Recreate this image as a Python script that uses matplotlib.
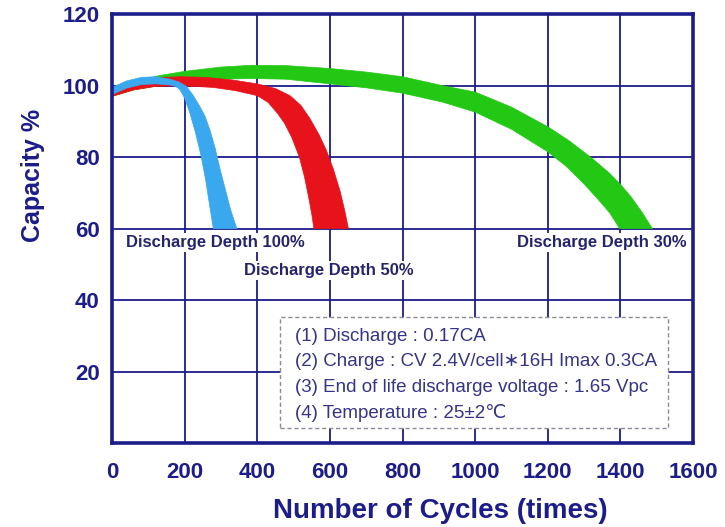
import matplotlib

matplotlib.use("Agg")
import matplotlib.pyplot as plt
from matplotlib.patches import Rectangle

plt.rcParams["font.family"] = ["Liberation Sans", "DejaVu Sans"]

NAVY = "#1c1c8a"
TEXT = "#24246e"

# band edges (cycles, capacity %)
blue_outer_x = [0, 40, 80, 120, 160, 185, 205, 222, 240, 256, 270, 284, 298, 312, 326, 337, 344]
blue_outer_y = [99.5, 101.3, 102.3, 102.5, 101.8, 101, 99.8, 97.5, 94.5, 91.5, 87.5, 82.5, 76.5, 71, 65.5, 62, 60]
blue_inner_x = [0, 40, 80, 120, 160, 175, 186, 200, 214, 230, 246, 258, 268, 275, 279]
blue_inner_y = [97.5, 99.3, 100.3, 100.5, 100.2, 99.8, 99, 96.5, 92.5, 86.8, 80, 73.5, 67, 62.5, 60]

red_outer_x = [0, 60, 120, 190, 260, 330, 400, 450, 490, 520, 545, 570, 590, 610, 628, 641, 651]
red_outer_y = [98.8, 101, 102.2, 102.5, 102.3, 101.6, 100.5, 99.2, 97.2, 94.5, 90.8, 86.3, 82, 76.5, 70.5, 65, 60]
red_inner_x = [0, 60, 120, 190, 279, 340, 400, 430, 456, 475, 495, 516, 530, 542, 551, 556]
red_inner_y = [97, 98.8, 99.8, 100, 99.5, 98.6, 97.2, 95.3, 92.2, 89.5, 85.5, 80, 74.5, 68.5, 63.5, 60]

green_outer_x = [0, 60, 130, 200, 300, 383, 480, 600, 700, 800, 910, 1000, 1100, 1200,
                 1260, 1324, 1370, 1400, 1430, 1460, 1488]
green_outer_y = [99, 101, 102.8, 104, 105.2, 105.7, 105.6, 104.8, 103.8, 102.5, 100, 98.2, 94, 88.5,
                 84.5, 79.5, 75.5, 72.4, 68.8, 64.5, 60]
green_inner_x = [0, 60, 130, 200, 300, 383, 480, 600, 700, 800, 910, 1000, 1100, 1200,
                 1250, 1300, 1340, 1370, 1398]
green_inner_y = [97, 98.8, 100, 101, 101.8, 102, 101.8, 100.5, 99.4, 97.9, 95.4, 92.6, 87.8, 81.5,
                 77.5, 72.5, 68, 64.5, 60]

bands = [
    (green_outer_x, green_outer_y, green_inner_x, green_inner_y, "#22c814"),
    (red_outer_x, red_outer_y, red_inner_x, red_inner_y, "#e8121a"),
    (blue_outer_x, blue_outer_y, blue_inner_x, blue_inner_y, "#3aa8ee"),
]

x_ticks = [0, 200, 400, 600, 800, 1000, 1200, 1400, 1600]
y_ticks = [20, 40, 60, 80, 100, 120]

depth_labels = [
    ("Discharge Depth 100%", 284, 56),
    ("Discharge Depth 50%", 598, 48.4),
    ("Discharge Depth 30%", 1349, 56),
]

notes = [
    "(1) Discharge : 0.17CA",
    "(2) Charge : CV 2.4V/cell\u221716H Imax 0.3CA",
    "(3) End of life discharge voltage : 1.65 Vpc",
    "(4) Temperature : 25\u00b12\u2103",
]

fig = plt.figure(figsize=(7.25, 5.27), dpi=100)
ax = fig.add_axes([0.1545, 0.1594, 0.8014, 0.8137])

for ox, oy, ix, iy, color in bands:
    ax.fill(ox + ix[::-1], oy + iy[::-1], color=color, lw=0.5, ec=color, zorder=2)

ax.set_xlim(0, 1600)
ax.set_ylim(0, 120)
ax.set_xticks(x_ticks)
ax.set_yticks(y_ticks)
ax.grid(True, color=NAVY, lw=1.3, zorder=0)
ax.set_axisbelow(True)
for s in ax.spines.values():
    s.set_color(NAVY)
    s.set_linewidth(2.6)
    s.set_zorder(5)
ax.tick_params(length=0, labelsize=16, labelcolor=NAVY)
ax.tick_params(axis="x", pad=14)
ax.tick_params(axis="y", pad=9)
for lab in ax.get_xticklabels() + ax.get_yticklabels():
    lab.set_fontweight("bold")

ax.set_xlabel("Number of Cycles (times)", fontsize=20, fontweight="bold", color=NAVY)
ax.xaxis.label.set_va("center")
ax.xaxis.set_label_coords(0.565, -0.158)
ax.set_ylabel("Capacity %", fontsize=18, fontweight="bold", color=NAVY)
ax.yaxis.set_label_coords(-0.115, 0.623)

for text, x, y in depth_labels:
    ax.text(x, y, text, ha="center", va="center", fontsize=12, fontweight="bold",
            color=TEXT, zorder=4,
            bbox=dict(facecolor="white", edgecolor="none", pad=1.5))

box = Rectangle((463, 4.2), 1068, 31, facecolor="white", edgecolor="#8a8a9a",
                lw=1.0, ls=(0, (3, 2)), zorder=3)
ax.add_patch(box)
for i, line in enumerate(notes):
    ax.text(504, 29.9 - i * 7.2, line, ha="left", va="center", fontsize=13.5,
            color="#34348a", zorder=4)

fig.savefig("out.png", dpi=100)
